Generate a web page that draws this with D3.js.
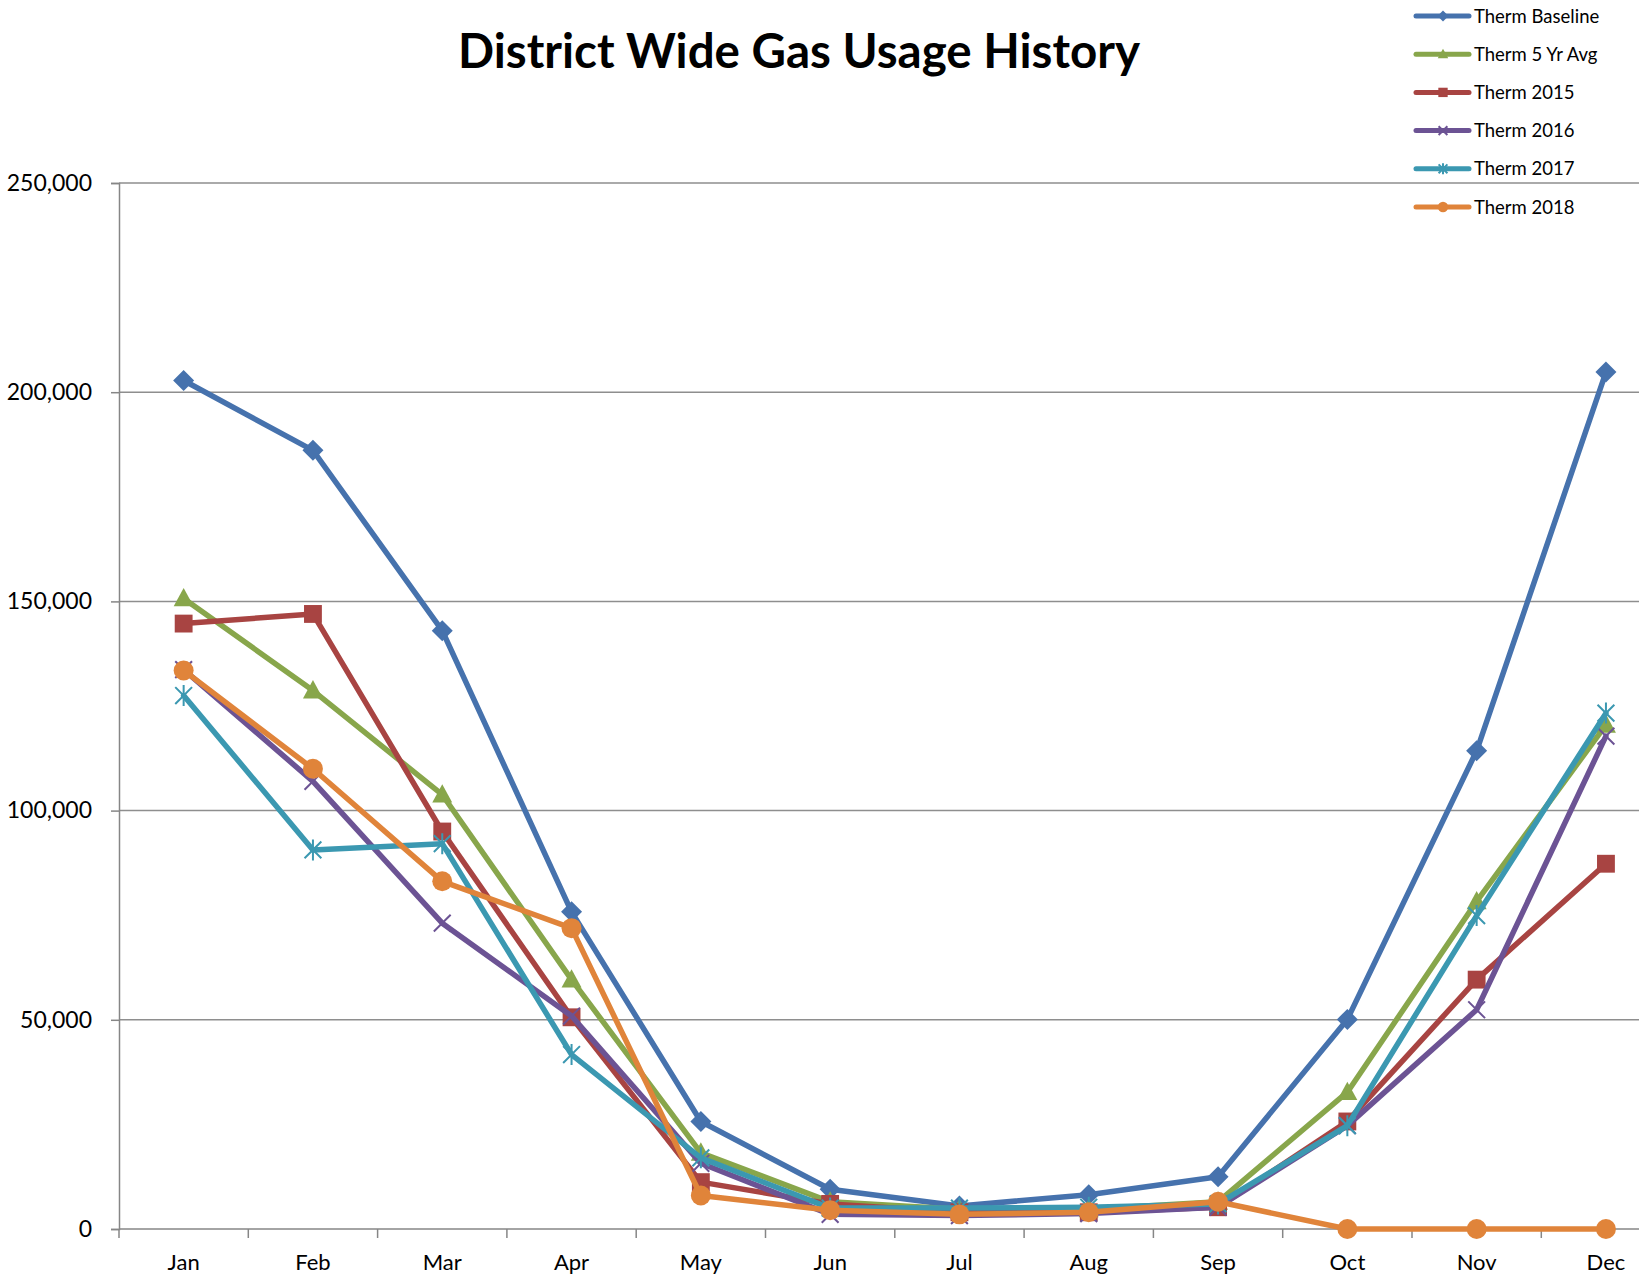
<!DOCTYPE html>
<html>
<head>
<meta charset="utf-8">
<script src="https://cdn.jsdelivr.net/npm/d3@7"></script>
<style>
  body { margin: 0; background: #fff; }
  svg { display: block; font-family: Lato, "Open Sans", sans-serif; }
</style>
</head>
<body>
<div id="chart"></div>
<script>
// values
const months = ["Jan", "Feb", "Mar", "Apr", "May", "Jun", "Jul", "Aug", "Sep", "Oct", "Nov", "Dec"];
const thermBaseline = [202800, 186100, 143000, 75800, 25700, 9500, 5500, 8200, 12500, 50100, 114300, 204800];
const therm5YrAvg   = [150700, 128700, 103800, 59600, 18200, 6500, 4700, 4700, 6500, 32700, 78300, 120500];
const therm2015     = [144700, 147000, 95000, 50600, 11200, 6000, 4000, 4000, 5200, 25700, 59600, 87300];
const therm2016     = [133700, 107000, 73100, 50900, 15700, 3500, 3200, 3700, 5200, 24700, 52400, 117800];
const therm2017     = [127500, 90600, 92100, 41700, 17000, 5000, 5000, 5200, 6000, 24700, 74900, 123300];
const therm2018     = [133500, 110000, 83100, 71900, 8000, 4500, 3500, 4000, 6500, 0, 0, 0];
const yTicks = [0, 50000, 100000, 150000, 200000, 250000];

const series = [
    {name: "Therm Baseline", values: thermBaseline, color: "#4672ad", marker: "diamond"},
    {name: "Therm 5 Yr Avg", values: therm5YrAvg, color: "#88a64b", marker: "triangle"},
    {name: "Therm 2015", values: therm2015, color: "#a84442", marker: "square"},
    {name: "Therm 2016", values: therm2016, color: "#6c5394", marker: "x"},
    {name: "Therm 2017", values: therm2017, color: "#3b98b1", marker: "star"},
    {name: "Therm 2018", values: therm2018, color: "#e0843a", marker: "circle"}
];

const W = 1639, H = 1279;
const plot = {left: 119, top: 183, bottom: 1229, catWidth: 129.3};

const svg = d3.select("#chart").append("svg")
    .attr("width", W)
    .attr("height", H);

const x = d3.scaleBand()
    .domain(months)
    .range([plot.left, plot.left + plot.catWidth * months.length]);

const y = d3.scaleLinear()
    .domain([0, 250000])
    .range([plot.bottom, plot.top]);

// gridlines
svg.append("g")
    .selectAll("line")
    .data(yTicks.filter(d => d > 0))
    .enter().append("line")
    .attr("x1", plot.left)
    .attr("x2", W)
    .attr("y1", d => y(d))
    .attr("y2", d => y(d))
    .attr("stroke", "#8e8e8e")
    .attr("stroke-width", 1.5);

// y axis
const yAxis = svg.append("g")
    .attr("transform", `translate(${plot.left},0)`)
    .call(d3.axisLeft(y).tickValues(yTicks).tickFormat(d3.format(",")).tickSize(8).tickPadding(19));
yAxis.attr("font-family", null);
yAxis.select(".domain").attr("stroke", "#868686").attr("stroke-width", 1.5);
yAxis.selectAll(".tick line").attr("stroke", "#868686").attr("stroke-width", 1.5);
yAxis.selectAll("text").style("font-size", "23px").attr("fill", "#000");

// x axis, ticks sit between categories
const xAxis = svg.append("g")
    .attr("transform", `translate(0,${plot.bottom})`);
xAxis.append("line")
    .attr("x1", plot.left).attr("x2", W)
    .attr("stroke", "#868686").attr("stroke-width", 1.5);
xAxis.selectAll(".xtick")
    .data(months)
    .enter().append("line")
    .attr("class", "xtick")
    .attr("x1", d => x(d)).attr("x2", d => x(d))
    .attr("y1", 0).attr("y2", 9)
    .attr("stroke", "#868686").attr("stroke-width", 1.5);
xAxis.selectAll(".xlabel")
    .data(months)
    .enter().append("text")
    .attr("class", "xlabel")
    .attr("x", d => x(d) + x.bandwidth() / 2)
    .attr("y", 41)
    .attr("text-anchor", "middle")
    .style("font-size", "22px")
    .text(d => d);

function drawMarker(g, type, color, s) {
    if (type === "diamond") {
        g.append("path").attr("d", `M0,${-s}L${s},0L0,${s}L${-s},0Z`).attr("fill", color);
    } else if (type === "triangle") {
        g.append("path").attr("d", `M0,${-s}L${s * 0.95},${s * 0.75}L${-s * 0.95},${s * 0.75}Z`).attr("fill", color);
    } else if (type === "square") {
        g.append("rect").attr("x", -s * 0.85).attr("y", -s * 0.85)
            .attr("width", s * 1.7).attr("height", s * 1.7).attr("fill", color);
    } else if (type === "circle") {
        g.append("circle").attr("r", s * 0.95).attr("fill", color);
    } else if (type === "x") {
        const a = s * 0.8;
        g.append("path").attr("d", `M${-a},${-a}L${a},${a}M${-a},${a}L${a},${-a}`)
            .attr("stroke", color).attr("stroke-width", 2);
    } else if (type === "star") {
        const a = s * 0.8;
        g.append("path").attr("d", `M${-a},${-a}L${a},${a}M${-a},${a}L${a},${-a}M0,${-s}L0,${s}`)
            .attr("stroke", color).attr("stroke-width", 2);
    }
}

const line = d3.line()
    .x((d, i) => x(months[i]) + x.bandwidth() / 2)
    .y(d => y(d));

series.forEach(s => {
    const g = svg.append("g").attr("class", "series");
    g.append("path")
        .datum(s.values)
        .attr("fill", "none")
        .attr("stroke", s.color)
        .attr("stroke-width", 5.5)
        .attr("stroke-linejoin", "round")
        .attr("stroke-linecap", "round")
        .attr("d", line);
    s.values.forEach((v, i) => {
        const m = g.append("g")
            .attr("transform", `translate(${x(months[i]) + x.bandwidth() / 2},${y(v)})`);
        drawMarker(m, s.marker, s.color, 10.5);
    });
});

// title
svg.append("text")
    .attr("x", 799)
    .attr("y", 68)
    .attr("text-anchor", "middle")
    .style("font-size", "47.5px")
    .style("font-weight", "bold")
    .text("District Wide Gas Usage History");

// legend
const legend = svg.append("g")
    .attr("transform", "translate(1416,16)");
series.forEach((s, i) => {
    const row = legend.append("g").attr("transform", `translate(0,${i * 38.2})`);
    row.append("line")
        .attr("x1", 0).attr("x2", 53)
        .attr("stroke", s.color).attr("stroke-width", 5)
        .attr("stroke-linecap", "round");
    const m = row.append("g").attr("transform", "translate(27,0)");
    drawMarker(m, s.marker, s.color, 5.5);
    row.append("text")
        .attr("x", 58)
        .attr("y", 6.5)
        .style("font-size", "18.5px")
        .text(s.name);
});
</script>
</body>
</html>
